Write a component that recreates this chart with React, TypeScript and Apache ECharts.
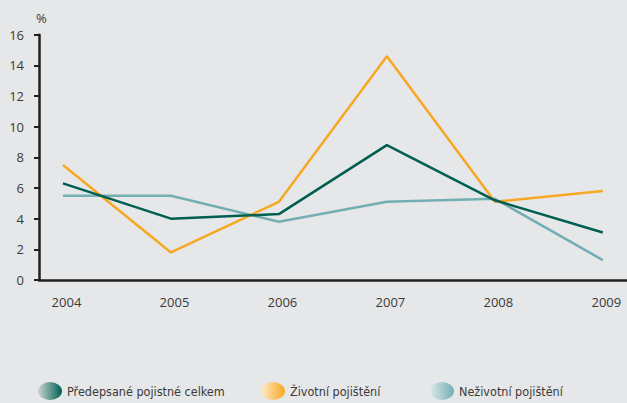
import React, { useEffect, useRef } from "react";
import * as echarts from "echarts";

const years = [2004, 2005, 2006, 2007, 2008, 2009];
const seriesNames = ["Předepsané pojistné celkem", "Životní pojištění", "Neživotní pojištění"];
const totalValues = [6.3, 4.0, 4.3, 8.8, 5.2, 3.1];
const lifeValues = [7.5, 1.8, 5.1, 14.6, 5.1, 5.8];
const nonLifeValues = [5.5, 5.5, 3.8, 5.1, 5.3, 1.3];
const yTicks = { min: 0, max: 16, interval: 2 };

const colors = ["#005f50", "#f7a823", "#72aeb2"];
const lightColors = ["#c9d6d3", "#fdebc8", "#dbe9ea"];
const ellipse = "path://M0,9 A12,9 0 1,0 24,9 A12,9 0 1,0 0,9 Z";

export default function App() {
  const ref = useRef<HTMLDivElement>(null);
  useEffect(() => {
    if (!ref.current) return;
    const chart = echarts.init(ref.current, null, { renderer: "svg" });
    const vals = [totalValues, lifeValues, nonLifeValues];
    const legendLefts = [33, 256, 425];
    chart.setOption({
      animation: false,
      backgroundColor: "#e6e7e8",
      grid: { left: 39, right: 0, top: 34.7, bottom: 123 },
      xAxis: {
        type: "value",
        min: 2003.778,
        max: 2009.224,
        axisLine: { show: true, lineStyle: { color: "#231f20", width: 2.5 } },
        axisTick: { show: false },
        splitLine: { show: false },
        axisLabel: {
          customValues: years,
          formatter: (v: number) => String(v),
          margin: 15,
          color: "#3a3a3a",
          fontSize: 13,
          fontFamily: "Open Sans, Noto Sans, sans-serif",
          padding: [0, 0, 0, 7],
        },
      },
      yAxis: {
        type: "value",
        min: yTicks.min,
        max: yTicks.max,
        interval: yTicks.interval,
        name: "%",
        nameLocation: "end",
        nameGap: 10,
        nameTextStyle: {
          color: "#3a3a3a",
          fontSize: 13,
          fontFamily: "Open Sans, Noto Sans, sans-serif",
          align: "left",
          padding: [0, 0, 0, -3],
        },
        axisLine: { show: true, lineStyle: { color: "#231f20", width: 2.5 } },
        axisTick: { show: true, length: 5, lineStyle: { color: "#231f20", width: 2 } },
        splitLine: { show: false },
        axisLabel: {
          margin: 15,
          color: "#3a3a3a",
          fontSize: 13,
          fontFamily: "Open Sans, Noto Sans, sans-serif",
        },
      },
      legend: seriesNames.map((n, i) => ({
        left: legendLefts[i],
        top: 377,
        icon: ellipse,
        symbolKeepAspect: false,
        itemWidth: 24,
        itemHeight: 18,
        selectedMode: false,
        textStyle: {
          color: "#3a3a3a",
          fontSize: 12.5,
          fontFamily: "DejaVu Sans Condensed, Liberation Sans Narrow, sans-serif",
        },
        data: [
          {
            name: n,
            itemStyle: {
              color: new echarts.graphic.LinearGradient(0, 0, 1, 0, [
                { offset: 0, color: lightColors[i] },
                { offset: 1, color: colors[i] },
              ]),
            },
          },
        ],
      })),
      series: seriesNames.map((n, i) => ({
        name: n,
        type: "line",
        symbol: "none",
        data: years.map((y, k) => [y, vals[i][k]]),
        lineStyle: { color: colors[i], width: 2.5 },
        itemStyle: { color: colors[i] },
        z: 3 - i,
      })),
    });
    return () => chart.dispose();
  }, []);
  return (
    <div
      ref={ref}
      style={{ position: "absolute", left: 0, top: 0, width: 627, height: 403 }}
    />
  );
}
